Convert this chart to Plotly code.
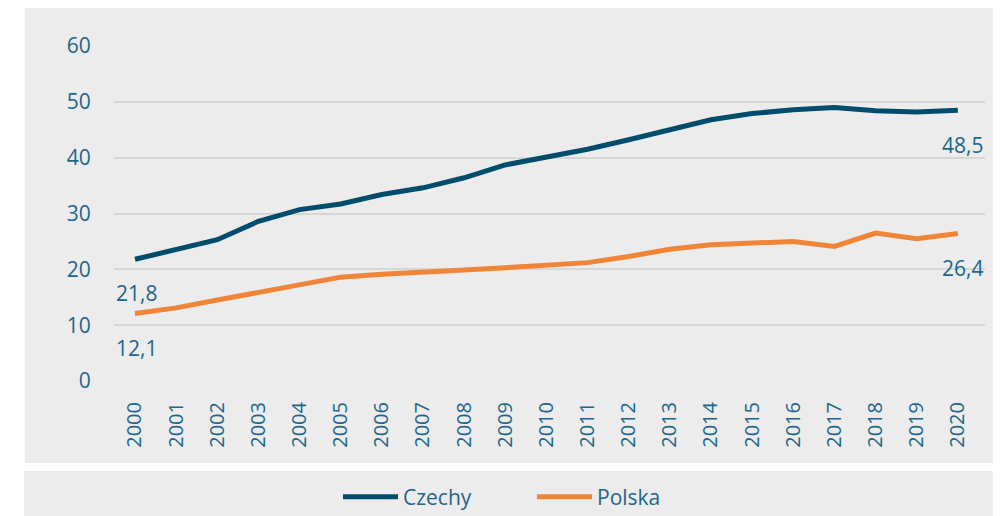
import plotly.graph_objects as go

years = list(range(2000, 2021))
czechy = [21.8, 23.6, 25.3, 28.6, 30.7, 31.7, 33.4, 34.6, 36.4, 38.7, 40.0,
          41.5, 43.2, 44.9, 46.8, 47.9, 48.6, 49.0, 48.4, 48.2, 48.5]
polska = [12.1, 13.1, 14.5, 15.9, 17.3, 18.6, 19.1, 19.6, 19.9, 20.3, 20.7,
          21.2, 22.3, 23.6, 24.4, 24.7, 25.0, 24.1, 26.5, 25.5, 26.4]
y_ticks = [0, 10, 20, 30, 40, 50, 60]

# the page body adds an 8px margin, so the figure is laid out 8px smaller
OFF = 8
W, H = 1001 - OFF, 516 - OFF
L = 114 - OFF
R = W - (985 - OFF)
T = 46 - OFF
B = H - (381 - OFF)
pw, ph = W - L - R, H - T - B

def px(x):
    return (x - OFF - L) / pw

def py(y):
    return (H - B - (y - OFF)) / ph

text_col = "#21668a"
font = "Open Sans"

fig = go.Figure()
fig.add_trace(go.Scatter(x=years, y=czechy, mode="lines", name="Czechy",
                         line=dict(color="#004c6d", width=5)))
fig.add_trace(go.Scatter(x=years, y=polska, mode="lines", name="Polska",
                         line=dict(color="#f08537", width=5)))

shapes = [
    dict(type="rect", xref="paper", yref="paper", x0=px(25), x1=px(1010),
         y0=py(463), y1=py(8), fillcolor="#ececec", line_width=0, layer="below"),
    dict(type="rect", xref="paper", yref="paper", x0=px(24), x1=px(1010),
         y0=py(530), y1=py(471), fillcolor="#ececec", line_width=0, layer="below"),
]

annotations = [
    dict(x=years[0], y=15.8, text="21,8", showarrow=False, xshift=2),
    dict(x=years[0], y=6.0, text="12,1", showarrow=False, xshift=2),
    dict(x=years[-1], y=42.3, text="48,5", showarrow=False, xshift=5),
    dict(x=years[-1], y=20.3, text="26,4", showarrow=False, xshift=5),
]
for a in annotations:
    a["font"] = dict(family=font, size=21, color=text_col)

fig.update_layout(
    width=W, height=H,
    margin=dict(l=L, r=R, t=T, b=B, autoexpand=False),
    paper_bgcolor="white",
    plot_bgcolor="rgba(0,0,0,0)",
    shapes=shapes,
    annotations=annotations,
    showlegend=True,
    legend=dict(orientation="h", x=px(338), xanchor="left", y=py(497), yanchor="middle",
                font=dict(family=font, size=21, color=text_col),
                bgcolor="rgba(0,0,0,0)", itemwidth=55,
                entrywidth=124, entrywidthmode="pixels", tracegroupgap=0),
    xaxis=dict(range=[1999.49, 2020.66], tickmode="array", tickvals=years,
               ticktext=[str(y) for y in years], tickangle=-90,
               tickfont=dict(family=font, size=20, color=text_col),
               showgrid=False, zeroline=False, showline=False, automargin=False,
               ticks="outside", ticklen=12, tickcolor="rgba(0,0,0,0)"),
    yaxis=dict(range=[0, 60], tickmode="array", tickvals=y_ticks,
               tickfont=dict(family=font, size=21, color=text_col),
               showgrid=True, gridcolor="#d6d6d6", gridwidth=1.5,
               zeroline=False, showline=False, automargin=False,
               ticks="outside", ticklen=18, tickcolor="rgba(0,0,0,0)"),
)

fig.write_html("out.html")
